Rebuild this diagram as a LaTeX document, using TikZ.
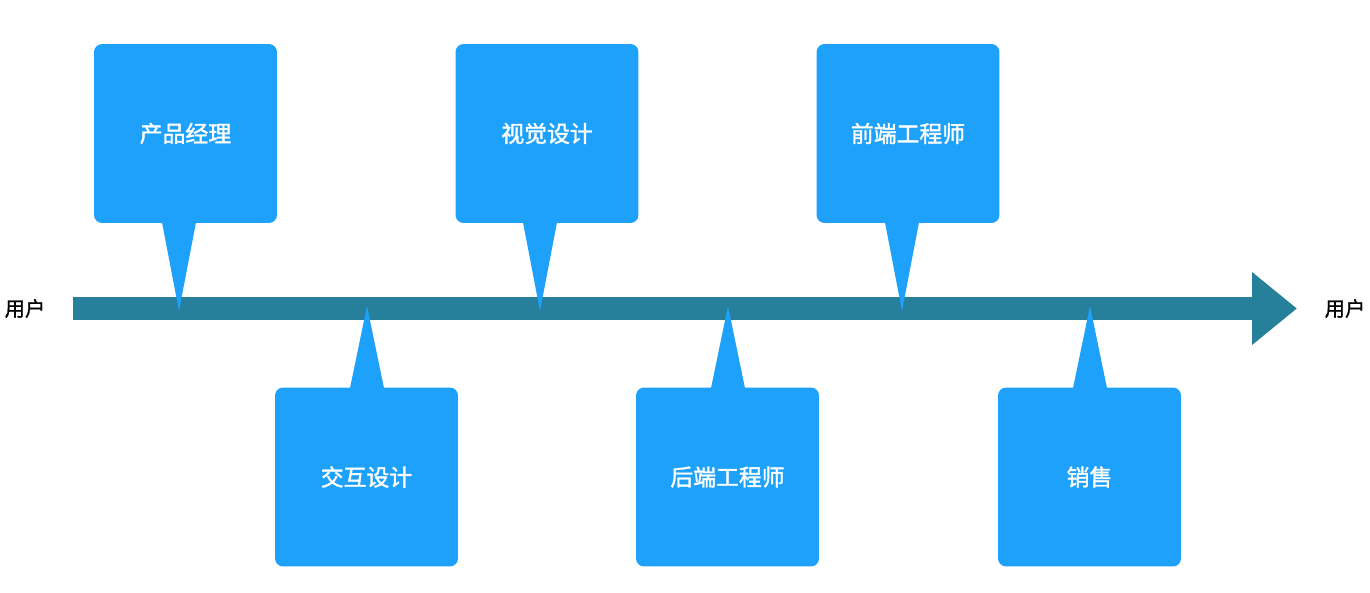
\documentclass[tikz,border=0pt]{standalone}
\usepackage{fontspec}
\setmainfont{Noto Sans CJK SC}
\newfontfamily\medfont{Noto Sans CJK SC}[FakeBold=1.6]
\newfontfamily\endfont{Noto Sans CJK SC}[FakeBold=1.2]
\usetikzlibrary{calc, arrows.meta}
\definecolor{boxblue}{RGB}{30,161,250}
\definecolor{shaftteal}{RGB}{38,128,156}
\tikzset{
  role/.style = {fill = boxblue, rounded corners = 0.16cm, minimum width = 3.66cm, minimum height = 3.58cm, text = white, font = \medfont\fontsize{13}{15}\selectfont},
  tail/.style = {fill = boxblue},
  user/.style = {font = \endfont\fontsize{11.5}{13}\selectfont}
}
\begin{document}
\begin{tikzpicture}[x = 0.02cm, y = -0.02cm]
\useasboundingbox (0,0) rectangle (1370,592);
% main line
\coordinate (S) at (73,308.5);
\coordinate (E) at (1297,308.5);
\draw[shaftteal, line width = 0.46cm, -{Triangle[width = 1.4cm, length = 0.9cm]}] (S) -- (E);
\node[user] (L) at (25,308.5) {用户};
\node[user] (R) at (1345,308.5) {用户};
% upper roles
\node[role] (pm) at (185.5,133.5) {产品经理};
\node[role] (vd) at (547,133.5) {视觉设计};
\node[role] (fe) at (908,133.5) {前端工程师};
% lower roles
\node[role] (ix) at (366.5,477) {交互设计};
\node[role] (be) at (727.5,477) {后端工程师};
\node[role] (sa) at (1089.5,477) {销售};
% tails
\coordinate (t1) at (179,311);
\coordinate (t2) at (540,311);
\coordinate (t3) at (902,311);
\coordinate (b1) at (367,306);
\coordinate (b2) at (728,306);
\coordinate (b3) at (1090,306);
\fill[tail] ($(t1 |- pm.south)+(-17,-1)$) -- ($(t1 |- pm.south)+(17,-1)$) -- (t1) -- cycle;
\fill[tail] ($(t2 |- vd.south)+(-17,-1)$) -- ($(t2 |- vd.south)+(17,-1)$) -- (t2) -- cycle;
\fill[tail] ($(t3 |- fe.south)+(-17,-1)$) -- ($(t3 |- fe.south)+(17,-1)$) -- (t3) -- cycle;
\fill[tail] ($(b1 |- ix.north)+(-17,1)$) -- ($(b1 |- ix.north)+(17,1)$) -- (b1) -- cycle;
\fill[tail] ($(b2 |- be.north)+(-17,1)$) -- ($(b2 |- be.north)+(17,1)$) -- (b2) -- cycle;
\fill[tail] ($(b3 |- sa.north)+(-17,1)$) -- ($(b3 |- sa.north)+(17,1)$) -- (b3) -- cycle;
\end{tikzpicture}
\end{document}
